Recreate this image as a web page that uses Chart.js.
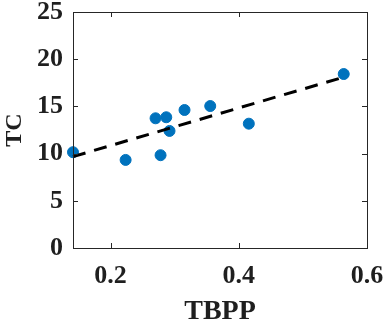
<!DOCTYPE html>
<html>
<head>
<meta charset="utf-8">
<script src="https://cdn.jsdelivr.net/npm/chart.js@4"></script>
<style>
  html, body { margin: 0; padding: 0; background: #fff; }
  #wrap { width: 386px; height: 323px; }
</style>
</head>
<body>
<div id="wrap"><canvas id="myChart" width="386" height="323"></canvas></div>
<script>
// values
var tbpp = [0.1413, 0.2234, 0.2701, 0.2868, 0.2779, 0.2919, 0.3153, 0.3554, 0.4156, 0.5637];
var tc = [10.15, 9.33, 13.74, 13.85, 9.83, 12.40, 14.62, 15.04, 13.17, 18.43];
// fitted line ends
var fitX = [0.1413, 0.5637];
var fitY = [9.68, 18.1];
var xTicks = [0.2, 0.4, 0.6];
var yTicks = [0, 5, 10, 15, 20, 25];

var textColor = '#1f1f1f';
var serif = "'Times New Roman', 'Liberation Serif', Tinos, serif";

// matlab style box with inward ticks
var boxPlugin = {
  id: 'box',
  afterDraw: function(chart) {
    var ctx = chart.ctx;
    var a = chart.chartArea;
    var xs = chart.scales.x, ys = chart.scales.y;
    var len = 5;
    ctx.save();
    ctx.strokeStyle = '#262626';
    ctx.lineWidth = 1;
    ctx.strokeRect(Math.round(a.left) + 0.5, Math.round(a.top) + 0.5,
      Math.round(a.right - a.left), Math.round(a.bottom - a.top));
    ctx.beginPath();
    xTicks.forEach(function(v) {
      var px = Math.round(xs.getPixelForValue(v)) + 0.5;
      ctx.moveTo(px, a.bottom); ctx.lineTo(px, a.bottom - len);
      ctx.moveTo(px, a.top); ctx.lineTo(px, a.top + len);
    });
    yTicks.forEach(function(v) {
      var py = Math.round(ys.getPixelForValue(v)) + 0.5;
      ctx.moveTo(a.left, py); ctx.lineTo(a.left + len, py);
      ctx.moveTo(a.right, py); ctx.lineTo(a.right - len, py);
    });
    ctx.stroke();
    ctx.restore();
  }
};

var ctx = document.getElementById('myChart');
new Chart(ctx, {
  type: 'scatter',
  data: {
    datasets: [
      {
        type: 'line',
        data: fitX.map(function(x, i) { return { x: x, y: fitY[i] }; }),
        borderColor: '#000000',
        borderWidth: 3,
        borderDash: [13, 9],
        pointRadius: 0,
        fill: false,
        clip: false
      },
      {
        data: tbpp.map(function(x, i) { return { x: x, y: tc[i] }; }),
        backgroundColor: '#0072BD',
        borderColor: '#0072BD',
        pointRadius: 5.5,
        pointHoverRadius: 5.5,
        clip: false
      }
    ]
  },
  options: {
    responsive: false,
    animation: false,
    layout: { padding: { left: 0, right: 19, top: 12, bottom: 0 } },
    plugins: { legend: { display: false }, tooltip: { enabled: false } },
    scales: {
      x: {
        type: 'linear',
        min: 0.1413,
        max: 0.6,
        afterBuildTicks: function(axis) {
          axis.ticks = xTicks.map(function(v) { return { value: v }; });
        },
        afterFit: function(axis) {
          axis.height = 75;
          axis.paddingLeft = 0; axis.paddingRight = 0;
        },
        grid: { display: false, drawTicks: false },
        border: { display: false },
        ticks: {
          color: textColor,
          padding: 13,
          maxRotation: 0,
          font: { family: serif, size: 26, weight: 'bold' },
          callback: function(v) { return v.toFixed(1); }
        },
        title: {
          display: true,
          text: 'TBPP',
          color: textColor,
          padding: { top: 0, bottom: -3 },
          font: { family: serif, size: 28, weight: 'bold', lineHeight: 1 }
        }
      },
      y: {
        min: 0,
        max: 25,
        afterBuildTicks: function(axis) {
          axis.ticks = yTicks.map(function(v) { return { value: v }; });
        },
        afterFit: function(axis) {
          axis.width = 73;
          axis.paddingTop = 0; axis.paddingBottom = 0;
        },
        grid: { display: false, drawTicks: false },
        border: { display: false },
        ticks: {
          color: textColor,
          padding: 10,
          font: { family: serif, size: 26, weight: 'bold' }
        },
        title: {
          display: true,
          text: 'TC',
          color: textColor,
          padding: 0,
          font: { family: serif, size: 24, weight: 'bold' }
        }
      }
    }
  },
  plugins: [boxPlugin]
});
</script>
</body>
</html>
